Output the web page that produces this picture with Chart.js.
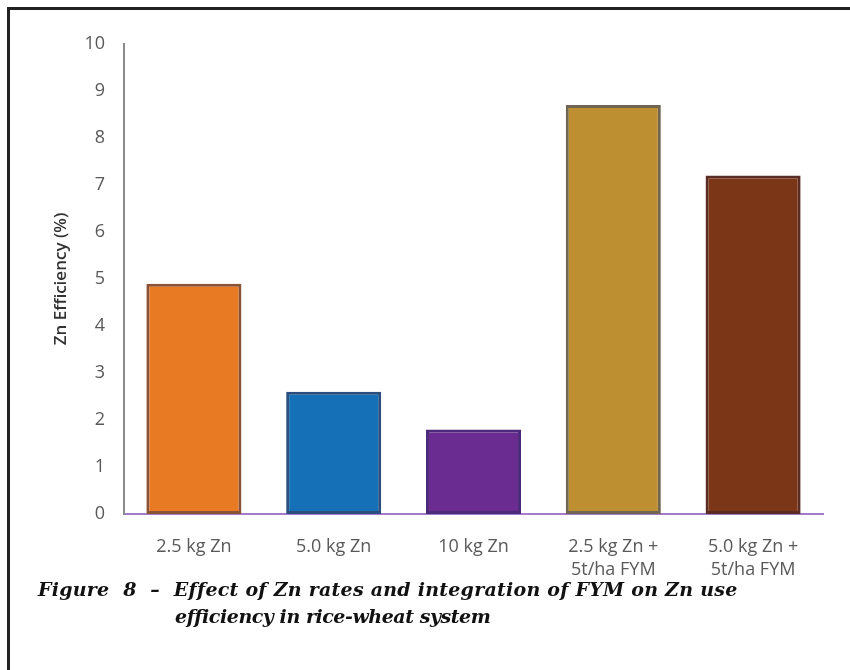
<!DOCTYPE html>
<html>
<head>
<meta charset="utf-8">
<script src="https://cdn.jsdelivr.net/npm/chart.js@4/dist/chart.umd.min.js"></script>
<style>
  html, body { margin: 0; padding: 0; background: #fff; }
  #wrap { position: relative; width: 850px; height: 670px; overflow: hidden; background: #fff; }
  #chart { position: absolute; left: 0; top: 0; filter: blur(0.6px); }
  #frame { position: absolute; left: 7px; top: 7px; right: -10px; bottom: -10px;
           border-top: 3px solid #222; border-left: 3px solid #222; pointer-events: none; }
  .cap { position: absolute; font-family: "DejaVu Serif", serif; font-weight: bold; font-style: italic;
         font-size: 19px; color: #111; white-space: pre; line-height: 1; }
</style>
</head>
<body>
<div id="wrap">
  <canvas id="chart" width="850" height="670"></canvas>
  <div id="frame"></div>
  <div class="cap" style="left:38px; top:580px; letter-spacing:0.25px;">Figure  8  –  Effect of Zn rates and integration of FYM on Zn use</div>
  <div class="cap" style="left:175px; top:607px; letter-spacing:-0.45px;">efficiency in rice-wheat system</div>
</div>
<script>
// Treatments and Zn use efficiency (%)
const treatments = [
  ['2.5 kg Zn'],
  ['5.0 kg Zn'],
  ['10 kg Zn'],
  ['2.5 kg Zn +', '5t/ha FYM'],
  ['5.0 kg Zn +', '5t/ha FYM']
];
const efficiency = [4.9, 2.6, 1.8, 8.7, 7.2];
const yTicks = [0, 1, 2, 3, 4, 5, 6, 7, 8, 9, 10];

const fillColors   = ['#E97A24', '#1570B8', '#6A2C91', '#BE8F30', '#7B3517'];
const borderColors = ['#8A5335', '#2C4E7C', '#4C2A7A', '#6F6552', '#5B2C24'];

new Chart(document.getElementById('chart'), {
  type: 'bar',
  data: {
    labels: treatments,
    datasets: [{
      data: efficiency,
      backgroundColor: fillColors,
      borderColor: borderColors,
      borderWidth: 3,
      borderSkipped: false,
      barPercentage: 0.68,
      categoryPercentage: 1.0
    }]
  },
  options: {
    responsive: false,
    animation: false,
    devicePixelRatio: 1,
    layout: { padding: { left: 0, right: 27, top: 44, bottom: 0 } },
    plugins: { legend: { display: false }, tooltip: { enabled: false } },
    scales: {
      x: {
        grid: { display: false, drawTicks: false },
        border: { display: true, color: '#A57BCB', width: 2 },
        ticks: {
          color: '#595959',
          padding: 21,
          maxRotation: 0,
          font: { family: '"Open Sans", sans-serif', size: 18, lineHeight: 1.3 }
        },
        afterFit: (scale) => { scale.height = 156; }
      },
      y: {
        min: 0,
        max: 10,
        afterBuildTicks: (scale) => { scale.ticks = yTicks.map(v => ({ value: v })); },
        grid: { display: false, drawTicks: false },
        border: { display: true, color: '#8C8C8C', width: 2 },
        ticks: {
          color: '#595959',
          padding: 19,
          font: { family: '"Open Sans", sans-serif', size: 18 }
        },
        title: {
          display: true,
          text: 'Zn Efficiency (%)',
          color: '#333',
          padding: { top: 51, bottom: 0 },
          font: { family: '"Open Sans", sans-serif', size: 17, weight: '600' }
        },
        afterFit: (scale) => { scale.width = 124; }
      }
    }
  }
});
</script>
</body>
</html>
